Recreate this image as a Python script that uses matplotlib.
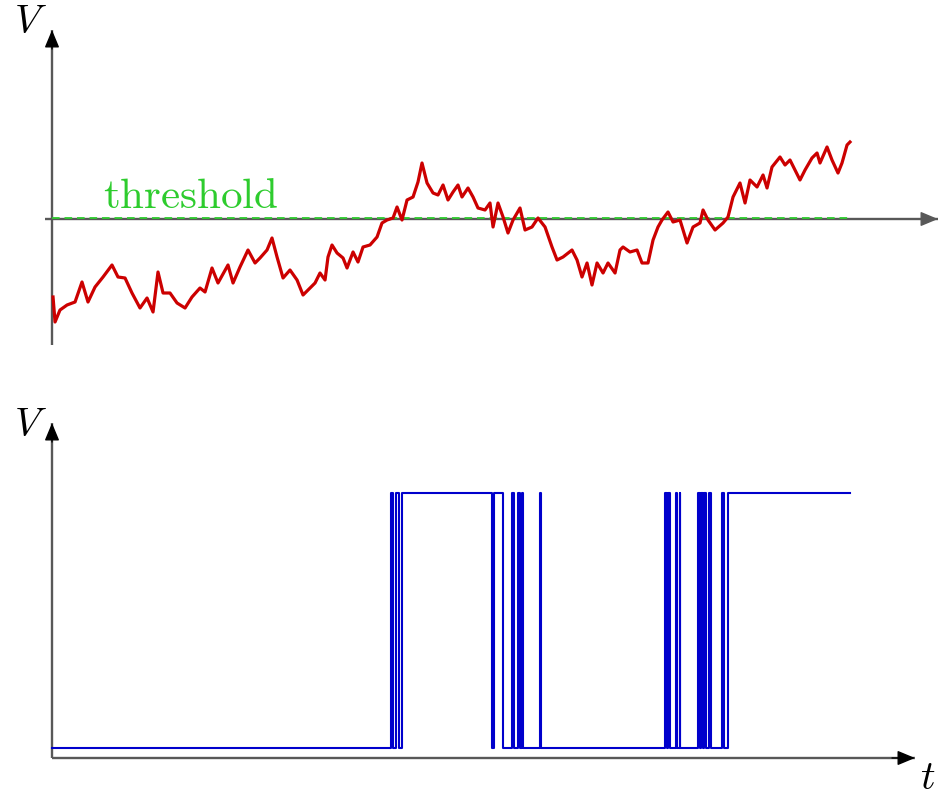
import matplotlib
matplotlib.use("Agg")
import matplotlib.pyplot as plt

plt.rcParams["mathtext.fontset"] = "cm"
plt.rcParams["lines.scale_dashes"] = False

# membrane trace (arbitrary units): time and voltage relative to threshold
T_TRACE = [0.013, 0.038, 0.1, 0.188, 0.288, 0.375, 0.45, 0.538, 0.638, 0.75,
           0.825, 0.913, 1.0, 1.1, 1.188, 1.263, 1.325, 1.388, 1.475, 1.563,
           1.663, 1.75, 1.85, 1.913, 2.0, 2.075, 2.2, 2.263, 2.35, 2.45,
           2.538, 2.6, 2.688, 2.75, 2.813, 2.888, 2.975, 3.063, 3.138, 3.2,
           3.288, 3.35, 3.413, 3.45, 3.5, 3.563, 3.638, 3.688, 3.763, 3.825,
           3.888, 3.975, 4.063, 4.125, 4.188, 4.263, 4.313, 4.375, 4.438, 4.513,
           4.575, 4.625, 4.688, 4.763, 4.825, 4.888, 4.95, 5.013, 5.075, 5.125,
           5.2, 5.263, 5.325, 5.413, 5.475, 5.513, 5.575, 5.638, 5.7, 5.763,
           5.85, 5.913, 6.0, 6.075, 6.163, 6.25, 6.313, 6.388, 6.5, 6.563,
           6.625, 6.688, 6.75, 6.813, 6.888, 6.95, 7.038, 7.1, 7.138, 7.225,
           7.313, 7.375, 7.45, 7.513, 7.575, 7.625, 7.7, 7.763, 7.85, 7.938,
           8.013, 8.1, 8.138, 8.2, 8.288, 8.388, 8.45, 8.513, 8.6, 8.663,
           8.725, 8.813, 8.888, 8.938, 9.0, 9.1, 9.163, 9.225, 9.288, 9.35,
           9.413, 9.5, 9.563, 9.6, 9.688, 9.75, 9.825, 9.875, 9.938, 9.975]
V_TRACE = [-0.78, -1.03, -0.91, -0.86, -0.83, -0.63, -0.83, -0.68, -0.58, -0.46,
           -0.58, -0.59, -0.74, -0.89, -0.79, -0.93, -0.53, -0.74, -0.74, -0.84,
           -0.89, -0.78, -0.69, -0.73, -0.49, -0.64, -0.46, -0.64, -0.48, -0.31,
           -0.44, -0.39, -0.31, -0.19, -0.38, -0.59, -0.51, -0.61, -0.76, -0.71,
           -0.64, -0.54, -0.61, -0.38, -0.26, -0.34, -0.39, -0.49, -0.33, -0.43,
           -0.28, -0.26, -0.18, -0.04, -0.01, 0.01, 0.12, -0.01, 0.19, 0.22,
           0.37, 0.56, 0.36, 0.26, 0.24, 0.34, 0.19, 0.27, 0.34, 0.22,
           0.31, 0.22, 0.11, 0.09, 0.16, -0.08, 0.16, 0.02, -0.14, -0.01,
           0.11, -0.11, -0.08, 0.01, -0.08, -0.28, -0.41, -0.38, -0.31, -0.41,
           -0.58, -0.44, -0.66, -0.44, -0.54, -0.44, -0.54, -0.31, -0.28, -0.33,
           -0.31, -0.44, -0.44, -0.21, -0.08, -0.01, 0.07, -0.03, -0.01, -0.24,
           -0.08, -0.04, 0.09, -0.01, -0.11, -0.04, 0.02, 0.22, 0.36, 0.16,
           0.39, 0.32, 0.44, 0.31, 0.52, 0.62, 0.54, 0.59, 0.49, 0.39,
           0.49, 0.61, 0.66, 0.56, 0.72, 0.59, 0.46, 0.56, 0.74, 0.77]

THRESHOLD = 0.0

# binary output: times at which the state flips (starts low)
FLIP_TIMES = [4.234, 4.266, 4.296, 4.341, 4.371,
              5.494, 5.531, 5.638, 5.744, 5.775, 5.825, 5.85, 5.869, 5.888,
              6.1, 6.11,
              7.663, 7.688, 7.706, 7.725, 7.8, 7.813, 7.844, 7.856,
              8.069, 8.094, 8.113, 8.138, 8.156, 8.181, 8.213, 8.238,
              8.375, 8.394, 8.444]
T_START, T_END = 0.0, 9.975
LOW, HIGH = 0.0, 1.0

AXIS_GRAY = "#585858"
RED = "#cc0000"
GREEN = "#2ecc2e"
BLUE = "#0000cc"

fig = plt.figure(figsize=(9.4, 7.97), dpi=100)
ax1 = fig.add_axes([45 / 940, 452 / 797, 895 / 940, 317 / 797])
ax2 = fig.add_axes([45 / 940, 35 / 797, 895 / 940, 342 / 797])
for ax in (ax1, ax2):
    ax.set_axis_off()
    ax.set_xlim(-0.0875, 11.1)
ax1.set_ylim(-1.26, 1.91)
ax2.set_ylim(-0.0549, 1.2863)


def axis_arrow(ax, start, tip, head_color, back):
    ax.plot([start[0], tip[0]], [start[1], tip[1]], color=AXIS_GRAY, lw=1.7,
            solid_capstyle="butt", zorder=1)
    ax.annotate("", xy=tip, xytext=back,
                arrowprops=dict(arrowstyle="-|>,head_length=0.6,head_width=0.25",
                                color=head_color, lw=1.0, shrinkA=0, shrinkB=0,
                                mutation_scale=18), zorder=5)


# --- top panel: trace vs threshold
axis_arrow(ax1, (0, -1.26), (0, 1.89), "black", (0, 1.7))
axis_arrow(ax1, (-0.0875, 0), (11.075, 0), AXIS_GRAY, (10.8, 0))
ax1.plot([T_START, T_END], [THRESHOLD + 0.01] * 2, color=GREEN, lw=1.3,
         dashes=(5.5, 3.5), zorder=2)
ax1.plot(T_TRACE, V_TRACE, color=RED, lw=2.3, zorder=3)
ax1.text(1.73, THRESHOLD + 0.11, r"$\mathrm{threshold}$", color=GREEN,
         fontsize=31, ha="center", va="baseline")

# --- bottom panel: thresholded output
axis_arrow(ax2, (0, -0.0392), (0, 1.2745), "black", (0, 1.2))
axis_arrow(ax2, (0, -0.0392), (10.7875, -0.0392), "black", (10.5, -0.0392))
step_t = [T_START] + FLIP_TIMES + [T_END]
levels = [HIGH if i % 2 else LOW for i in range(len(FLIP_TIMES) + 1)]
levels.append(levels[-1])
ax2.step(step_t, levels, where="post", color=BLUE, lw=1.5, zorder=3)

fig.text(30 / 940, 1 - 22 / 797, r"$V$", fontsize=29, ha="center", va="center")
fig.text(30 / 940, 1 - 425 / 797, r"$V$", fontsize=29, ha="center", va="center")
fig.text(928 / 940, 1 - 778 / 797, r"$t$", fontsize=29, ha="center", va="center")

fig.savefig("out.png", dpi=100)
